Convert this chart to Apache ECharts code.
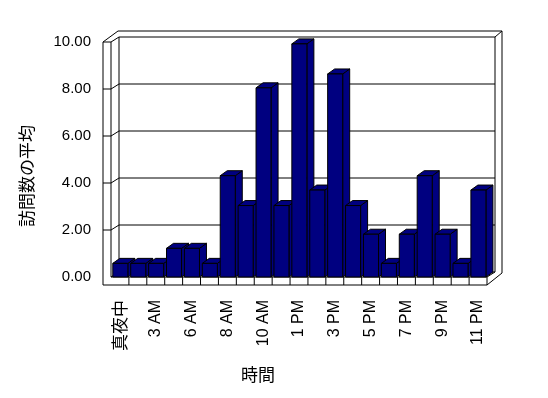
<!DOCTYPE html>
<html>
<head>
<meta charset="utf-8">
<script src="https://cdn.jsdelivr.net/npm/echarts@6/dist/echarts.min.js"></script>
<style>html,body{margin:0;padding:0;background:#fff}#c{width:548px;height:398px}</style>
</head>
<body>
<div id="c"></div>
<script>
const categories = ['真夜中','1 AM','3 AM','4 AM','6 AM','7 AM','8 AM','9 AM','10 AM','11 AM','1 PM','2 PM','3 PM','4 PM','5 PM','6 PM','7 PM','8 PM','9 PM','10 PM','11 PM'];
const visits = [0.58, 0.58, 0.58, 1.22, 1.22, 0.58, 4.31, 3.04, 8.05, 3.04, 9.92, 3.70, 8.64, 3.04, 1.82, 0.58, 1.82, 4.31, 1.82, 0.58, 3.70];
const yTickValues = [2, 4, 6, 8];
const yAxisTitle = '訪問数の平均';
const xAxisTitle = '時間';

const DX = 8, DY = -5;      // inner depth of floor / walls
const ODX = 15, ODY = -11;  // outer back edge
const WALL = 8, FLOOR = 8;  // slab thickness
const BDX = 7, BDY = -5;    // bar depth
const N = categories.length;
const LINE = { stroke: '#000', lineWidth: 1 };

function ln(a, b, c, d) { return { type: 'line', shape: { x1: a, y1: b, x2: c, y2: d }, style: LINE }; }

function renderFrame(params, api) {
  const bw = api.size([1, 0])[0];
  const x0 = api.coord([0, 0])[0] - bw / 2;
  const x1 = api.coord([N - 1, 0])[0] + bw / 2;
  const y0 = api.coord([0, 0])[1];
  const yT = api.coord([0, 10])[1];
  const ch = [];
  ch.push(ln(x0 - WALL, yT, x0 - WALL, y0 + FLOOR));
  ch.push(ln(x0, yT, x0, y0));
  ch.push(ln(x0 - WALL, yT, x0, yT));
  ch.push(ln(x0 - WALL, yT, x0 - WALL + ODX, yT + ODY));
  ch.push(ln(x0, yT, x0 + DX, yT + DY));
  ch.push(ln(x0 - WALL + ODX, yT + ODY, x1 + ODX, yT + ODY));
  ch.push(ln(x0 + DX, yT + DY, x1 + DX, yT + DY));
  ch.push(ln(x0 + DX, yT + DY, x0 + DX, y0 + DY));
  ch.push(ln(x1 + DX, yT + DY, x1 + DX, y0 + DY));
  ch.push(ln(x1 + DX, yT + DY, x1 + ODX, yT + ODY));
  ch.push(ln(x1 + ODX, yT + ODY, x1 + ODX, y0 + FLOOR + ODY - 1));
  yTickValues.forEach(v => {
    const yb = api.coord([0, v])[1] + DY;
    ch.push(ln(x0 + DX, yb, x1 + DX, yb));
    ch.push(ln(x0 + DX, yb, x0, yb - DY));
    ch.push(ln(x0, yb - DY, x0 - WALL, yb - DY));
  });
  ch.push(ln(x0 + DX, y0 + DY, x1 + DX, y0 + DY));
  ch.push(ln(x0, y0, x0 + DX, y0 + DY));
  ch.push(ln(x1, y0, x1 + DX, y0 + DY));
  ch.push(ln(x0, y0, x1, y0));
  ch.push(ln(x0 - WALL, y0 + FLOOR, x1, y0 + FLOOR));
  ch.push(ln(x1, y0, x1, y0 + FLOOR));
  ch.push(ln(x1, y0 + FLOOR, x1 + ODX, y0 + FLOOR + ODY - 1));
  for (let k = 1; k < N; k++) {
    const x = x0 + k * bw;
    ch.push(ln(x, y0, x, y0 + FLOOR));
  }
  return { type: 'group', children: ch };
}

function renderBar(params, api) {
  const i = api.value(0), v = api.value(1);
  const bw = api.size([1, 0])[0];
  const c = api.coord([i, v]);
  const b = api.coord([i, 0]);
  const xl = c[0] - bw / 2 + 1.8;
  const w = bw * 0.84;
  const xr = xl + w;
  const st = { fill: '#000080', stroke: '#000', lineWidth: 1 };
  return {
    type: 'group',
    children: [
      { type: 'polygon', shape: { points: [[xr, c[1]], [xr + BDX, c[1] + BDY], [xr + BDX, b[1] + BDY], [xr, b[1]]] }, style: st },
      { type: 'polygon', shape: { points: [[xl, c[1]], [xr, c[1]], [xr + BDX, c[1] + BDY], [xl + BDX, c[1] + BDY]] }, style: st },
      { type: 'rect', shape: { x: xl, y: c[1], width: w, height: b[1] - c[1] }, style: st }
    ]
  };
}

const chart = echarts.init(document.getElementById('c'), null, { renderer: 'canvas' });
chart.setOption({
  backgroundColor: '#fff',
  animation: false,
  grid: { left: 111, right: 61, top: 42, bottom: 121, containLabel: false },
  xAxis: {
    type: 'category',
    data: categories,
    boundaryGap: true,
    axisLine: { show: false },
    axisTick: { show: false },
    splitLine: { show: false },
    axisLabel: {
      interval: 1,
      rotate: 90,
      margin: 23,
      fontFamily: '"Liberation Sans Narrow", "Liberation Sans", Arial, sans-serif',
      fontSize: 16,
      color: '#000',
      formatter: function (v) { return /[\u3000-\u9fff]/.test(v) ? '{cjk|' + v + '}' : v; },
      rich: { cjk: { fontFamily: 'Noto Sans CJK JP', fontSize: 17, color: '#000' } }
    }
  },
  yAxis: {
    type: 'value',
    min: 0, max: 10, interval: 2,
    axisLine: { show: false },
    axisTick: { show: false },
    splitLine: { show: false },
    axisLabel: {
      margin: 20,
      fontFamily: 'Liberation Sans, Arial, sans-serif',
      fontSize: 15,
      color: '#000',
      formatter: function (v) { return v.toFixed(2); }
    }
  },
  graphic: [
    { type: 'text', x: 27, y: 176, rotation: Math.PI / 2, style: { text: yAxisTitle, font: '17px "Noto Sans CJK JP"', fill: '#000', align: 'center', verticalAlign: 'middle' } },
    { type: 'text', x: 258, y: 375, style: { text: xAxisTitle, font: '17px "Noto Sans CJK JP"', fill: '#000', align: 'center', verticalAlign: 'middle' } }
  ],
  series: [
    { type: 'custom', renderItem: renderFrame, data: [[0, 0]], encode: { x: 0, y: 1 }, clip: false, silent: true, z: 1 },
    { type: 'custom', renderItem: renderBar, data: visits.map((v, i) => [i, v]), encode: { x: 0, y: 1 }, clip: false, z: 2 }
  ]
});
</script>
</body>
</html>
